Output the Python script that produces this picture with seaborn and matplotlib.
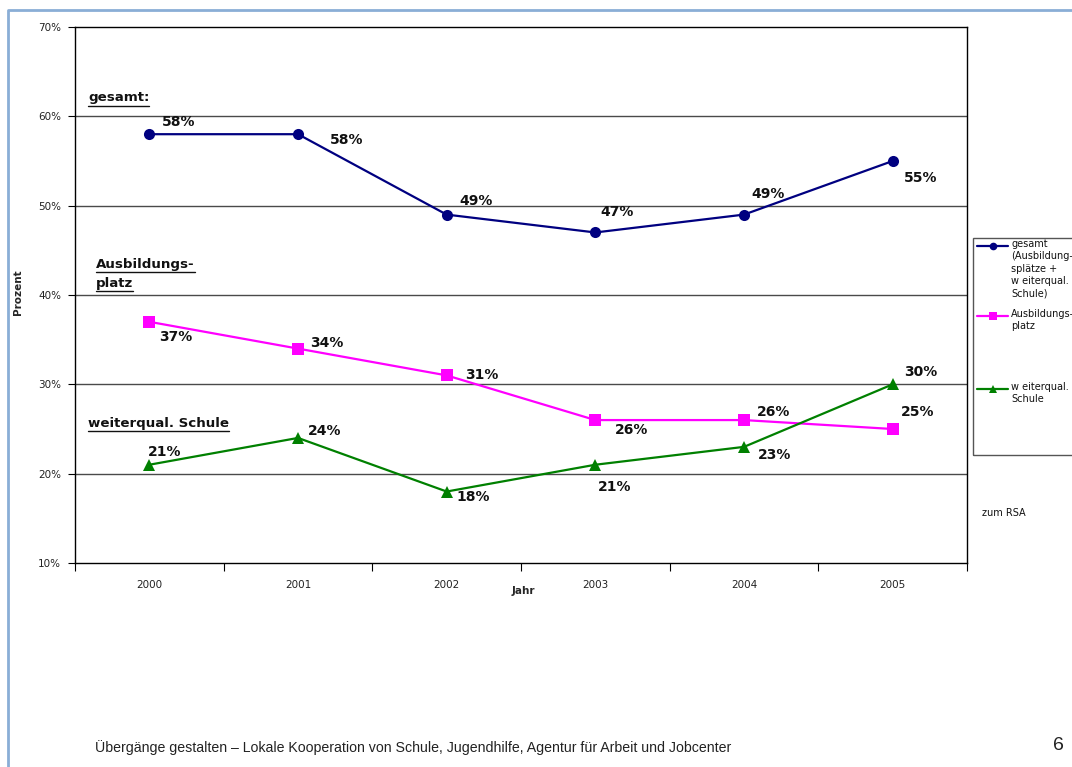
import matplotlib
matplotlib.use("Agg")
import matplotlib.pyplot as plt
from matplotlib.lines import Line2D
from matplotlib.patches import Rectangle
from matplotlib.ticker import FixedLocator, FuncFormatter
import numpy as np
import pandas as pd
import seaborn as sns

# --- data -------------------------------------------------------------
years = ["2000", "2001", "2002", "2003", "2004", "2005"]
gesamt = [58, 58, 49, 47, 49, 55]
ausbildungsplatz = [37, 34, 31, 26, 26, 25]
weiterqual_schule = [21, 24, 18, 21, 23, 30]

series_names = ["gesamt", "Ausbildungsplatz", "weiterqual. Schule"]
legend_labels = [
    "gesamt\n(Ausbildung-\nsplätze +\nw eiterqual.\nSchule)",
    "Ausbildungs-\nplatz",
    "w eiterqual.\nSchule",
]
y_ticks = [10, 20, 30, 40, 50, 60, 70]

# label offsets (points) of each value label from its marker
label_offsets = {
    "gesamt": [(21, 9), (35, -4), (21, 10), (16, 15), (17, 15), (20, -12)],
    "Ausbildungsplatz": [(19, -11), (21, 4), (25, 0), (26, -7), (21, 6), (18, 12)],
    "weiterqual. Schule": [(11, 9), (19, 5), (19, -4), (14, -16), (22, -6), (20, 9)],
}

colors = {"gesamt": "#000080", "Ausbildungsplatz": "#FF00FF",
          "weiterqual. Schule": "#008000"}
markers = {"gesamt": "o", "Ausbildungsplatz": "s", "weiterqual. Schule": "^"}

values = {"gesamt": gesamt, "Ausbildungsplatz": ausbildungsplatz,
          "weiterqual. Schule": weiterqual_schule}
df = pd.DataFrame(
    [(i, name, v) for name in series_names for i, v in enumerate(values[name])],
    columns=["pos", "series", "value"],
)

# --- figure -----------------------------------------------------------
sns.set_theme(style="white")
plt.rcParams["font.family"] = ["DejaVu Sans"]

fig = plt.figure(figsize=(10.72, 7.67), dpi=100)
fig.patch.set_facecolor("white")
ax = fig.add_axes([75 / 1072, 1 - 563 / 767, 892 / 1072, 536 / 767])

sns.lineplot(
    data=df, x="pos", y="value", hue="series", style="series",
    hue_order=series_names, style_order=series_names,
    palette=colors, markers=markers, dashes=False, markersize=8,
    markeredgewidth=0, linewidth=1.6, legend=False, ax=ax,
)

ax.set_xlim(-0.5, len(years) - 0.5)
ax.set_ylim(10, 70)
for y in y_ticks[1:-1]:
    ax.axhline(y, color="#4a4a4a", linewidth=1.0, zorder=0)

for s in ax.spines.values():
    s.set_visible(True)
    s.set_color("black")
    s.set_linewidth(1.0)

ax.yaxis.set_major_locator(FixedLocator(y_ticks))
ax.yaxis.set_major_formatter(FuncFormatter(lambda v, _: f"{v:.0f}%"))
ax.tick_params(axis="y", which="major", direction="out", length=5, width=0.8,
               color="black", labelsize=7.5, pad=5, left=True)

ax.set_xticks(range(len(years)))
ax.set_xticklabels(years)
ax.set_xticks(np.arange(-0.5, len(years)), minor=True)
ax.tick_params(axis="x", which="major", length=0, labelsize=7.5, pad=12)
ax.tick_params(axis="x", which="minor", direction="out", length=6, width=0.8,
               color="black", bottom=True)
for lab in ax.get_xticklabels() + ax.get_yticklabels():
    lab.set_color("#222222")

ax.set_xlabel("Jahr", fontsize=7.5, fontweight="bold", labelpad=0)
ax.xaxis.set_label_coords(0.503, -0.043)
ax.set_ylabel("")
fig.text(18 / 1072, 1 - 292 / 767, "Prozent", rotation=90, fontsize=7.5,
         fontweight="bold", ha="center", va="center")

# value labels
for name in series_names:
    for i, v in enumerate(values[name]):
        ax.annotate(f"{v}%", xy=(i, v), xytext=label_offsets[name][i],
                    textcoords="offset points", ha="center", va="center",
                    fontsize=10, fontweight="bold", color="#111111")

# underlined group headings inside the plot
headings = [
    ("gesamt:", 88, 98),
    ("Ausbildungs-", 96, 265),
    ("platz", 96, 283),
    ("weiterqual. Schule", 88, 423),
]
heading_texts = []
for txt, px, py in headings:
    t = fig.text(px / 1072, 1 - py / 767, txt, fontsize=9.6, fontweight="bold",
                 ha="left", va="center", color="#111111")
    heading_texts.append(t)

fig.canvas.draw()
renderer = fig.canvas.get_renderer()
for t in heading_texts:
    bb = t.get_window_extent(renderer)
    y0 = bb.y0 - 1
    fig.add_artist(Line2D([bb.x0 / 1072, bb.x1 / 1072], [y0 / 767, y0 / 767],
                          color="#111111", linewidth=1.0))

# legend box, drawn at the right edge of the page
fig.add_artist(Rectangle((973 / 1072, 1 - 455 / 767), 120 / 1072, 217 / 767,
                         fill=False, edgecolor="#555555", linewidth=1.0))
legend_rows = [246, 316, 389]
for name, lab, ry in zip(series_names, legend_labels, legend_rows):
    yy = 1 - ry / 767
    fig.add_artist(Line2D([977 / 1072, 1008 / 1072], [yy, yy],
                          color=colors[name], linewidth=1.6))
    fig.add_artist(Line2D([992.5 / 1072], [yy], color=colors[name],
                          marker=markers[name], markersize=5.5,
                          markeredgewidth=0, linestyle="none"))
    fig.text(1011 / 1072, yy + 7 / 767, lab, fontsize=7, ha="left", va="top",
             linespacing=1.3, color="#111111")

fig.text(982 / 1072, 1 - 513 / 767, "zum RSA", fontsize=7, ha="left",
         va="center", color="#111111")

# page frame and footer
frame_color = "#8aaed6"
fig.add_artist(Line2D([8 / 1072, 8 / 1072, 1.0], [0.0, 1 - 10 / 767, 1 - 10 / 767],
                      color=frame_color, linewidth=2.0))
fig.text(95 / 1072, 1 - 748 / 767,
         "Übergänge gestalten – Lokale Kooperation von Schule, Jugendhilfe, "
         "Agentur für Arbeit und Jobcenter",
         family=["Liberation Sans", "DejaVu Sans"],
         fontsize=10.2, ha="left", va="center", color="#222222")
fig.text(1058 / 1072, 1 - 745 / 767, "6",
         family=["Liberation Sans", "DejaVu Sans"],
         fontsize=14, ha="center", va="center", color="#222222")

fig.savefig("out.png", dpi=100)
